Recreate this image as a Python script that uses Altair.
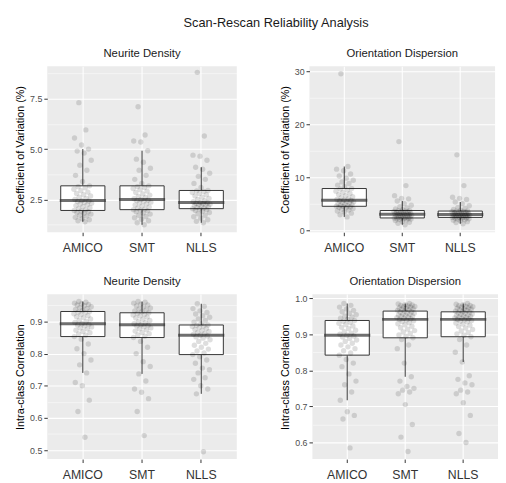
import altair as alt
import pandas as pd

methods = ["AMICO", "SMT", "NLLS"]

# Neurite Density - Coefficient of Variation (%)
nd_cov_amico = [1.40, 1.45, 1.50, 1.55, 1.62, 1.68, 1.72, 1.78, 1.82, 1.86, 1.90, 1.93,
                1.96,
                2.00, 2.05, 2.10, 2.15, 2.20, 2.24, 2.28, 2.32, 2.36, 2.40, 2.43,
                2.45,
                2.50, 2.56, 2.62, 2.68, 2.74, 2.80, 2.87, 2.94, 3.01, 3.08, 3.14,
                3.18,
                3.40, 3.70, 3.95, 4.20, 4.45, 4.80, 4.90, 5.00, 5.20, 5.55, 5.95, 7.30]
nd_cov_smt = [1.25, 1.35, 1.45, 1.52, 1.60, 1.66, 1.72, 1.78, 1.84, 1.90, 1.94, 1.97,
              2.00,
              2.04, 2.08, 2.13, 2.18, 2.23, 2.28, 2.33, 2.37, 2.41, 2.45, 2.48,
              2.50,
              2.54, 2.60, 2.66, 2.72, 2.78, 2.85, 2.92, 2.99, 3.05, 3.10, 3.14,
              3.18,
              3.30, 3.50, 3.70, 3.95, 4.05, 4.35, 4.50, 4.92, 5.35, 5.40, 5.70, 7.10]
nd_cov_nlls = [1.35, 1.42, 1.50, 1.58, 1.65, 1.72, 1.80, 1.86, 1.92, 1.96, 2.00, 2.03,
               2.05,
               2.08, 2.11, 2.14, 2.17, 2.20, 2.23, 2.25, 2.27, 2.29, 2.31, 2.33,
               2.35,
               2.39, 2.44, 2.50, 2.56, 2.62, 2.68, 2.74, 2.80, 2.85, 2.90, 2.93,
               2.95,
               3.10, 3.30, 3.50, 3.65, 3.80, 4.00, 4.10, 4.45, 4.65, 4.70, 5.65, 8.80]

# Orientation Dispersion - Coefficient of Variation (%)
odi_cov_amico = [2.5, 2.9, 3.2, 3.4, 3.6, 3.8, 3.95, 4.1, 4.2, 4.3, 4.38, 4.45,
                 4.5,
                 4.6, 4.7, 4.8, 4.9, 5.0, 5.1, 5.2, 5.3, 5.4, 5.5, 5.58,
                 5.65,
                 5.8, 5.95, 6.1, 6.3, 6.5, 6.7, 6.9, 7.1, 7.35, 7.55, 7.75,
                 7.85,
                 8.2, 8.5, 8.8, 9.1, 9.4, 9.8, 10.2, 10.6, 11.2, 11.5, 12.0, 29.5]
odi_cov_smt = [1.0, 1.3, 1.5, 1.65, 1.8, 1.9, 2.0, 2.08, 2.15, 2.2, 2.25, 2.28,
               2.3,
               2.36, 2.43, 2.5, 2.57, 2.64, 2.7, 2.76, 2.82, 2.88, 2.93, 2.97,
               3.0,
               3.05, 3.11, 3.17, 3.23, 3.29, 3.35, 3.41, 3.47, 3.53, 3.59, 3.65,
               3.7,
               3.85, 4.0, 4.2, 4.4, 4.7, 5.0, 5.5, 5.9, 6.0, 6.5, 8.4, 16.7]
odi_cov_nlls = [1.2, 1.45, 1.6, 1.75, 1.88, 1.98, 2.08, 2.16, 2.24, 2.3, 2.34, 2.37,
                2.4,
                2.45, 2.5, 2.56, 2.62, 2.68, 2.73, 2.78, 2.83, 2.87, 2.9, 2.93,
                2.95,
                3.0, 3.06, 3.12, 3.18, 3.24, 3.3, 3.36, 3.42, 3.48, 3.53, 3.57,
                3.6,
                3.75, 3.9, 4.1, 4.3, 4.6, 5.0, 5.3, 5.8, 6.0, 6.2, 8.4, 14.2]

# Neurite Density - Intra-class Correlation
nd_icc_amico = [0.54, 0.62, 0.655, 0.70, 0.71, 0.74, 0.765, 0.78, 0.80, 0.815, 0.83, 0.845,
                0.853,
                0.857, 0.861, 0.865, 0.869, 0.873, 0.877, 0.88, 0.883, 0.886, 0.889, 0.891,
                0.893,
                0.897, 0.90, 0.904, 0.908, 0.912, 0.915, 0.918, 0.921, 0.924, 0.927, 0.929,
                0.931,
                0.934, 0.937, 0.94, 0.943, 0.946, 0.949, 0.951, 0.953, 0.955, 0.957, 0.96, 0.962]
nd_icc_smt = [0.545, 0.62, 0.66, 0.68, 0.69, 0.715, 0.737, 0.76, 0.775, 0.80, 0.82, 0.838,
              0.85,
              0.854, 0.858, 0.862, 0.866, 0.87, 0.874, 0.877, 0.88, 0.883, 0.886, 0.888,
              0.89,
              0.893, 0.896, 0.899, 0.903, 0.907, 0.911, 0.914, 0.917, 0.92, 0.922, 0.925,
              0.927,
              0.93, 0.933, 0.936, 0.939, 0.942, 0.945, 0.948, 0.951, 0.954, 0.957, 0.96, 0.962]
nd_icc_nlls = [0.495, 0.675, 0.69, 0.70, 0.72, 0.725, 0.74, 0.75, 0.755, 0.77, 0.78, 0.79,
               0.797,
               0.802, 0.808, 0.814, 0.82, 0.826, 0.832, 0.838, 0.843, 0.848, 0.852, 0.855,
               0.857,
               0.86, 0.863, 0.866, 0.869, 0.872, 0.875, 0.878, 0.881, 0.884, 0.886, 0.888,
               0.889,
               0.893, 0.898, 0.903, 0.908, 0.913, 0.918, 0.923, 0.928, 0.933, 0.94, 0.947, 0.955]

# Orientation Dispersion - Intra-class Correlation
odi_icc_amico = [0.585, 0.665, 0.675, 0.685, 0.717, 0.74, 0.76, 0.77, 0.79, 0.81, 0.82, 0.83,
                 0.842,
                 0.848, 0.854, 0.86, 0.865, 0.87, 0.875, 0.88, 0.884, 0.888, 0.892, 0.895,
                 0.897,
                 0.90, 0.903, 0.907, 0.911, 0.915, 0.919, 0.923, 0.927, 0.93, 0.933, 0.936,
                 0.938,
                 0.941, 0.944, 0.947, 0.95, 0.954, 0.958, 0.962, 0.966, 0.97, 0.975, 0.98, 0.985]
odi_icc_smt = [0.575, 0.615, 0.65, 0.705, 0.735, 0.74, 0.745, 0.75, 0.755, 0.77, 0.782, 0.82, 0.86, 0.87, 0.885,
               0.89,
               0.894, 0.898, 0.902, 0.906, 0.91, 0.914, 0.918, 0.922, 0.926, 0.929, 0.932, 0.935, 0.937, 0.939,
               0.941,
               0.943, 0.944, 0.946, 0.947, 0.949, 0.95, 0.952, 0.953, 0.955, 0.956, 0.958, 0.959, 0.961, 0.962,
               0.964,
               0.966, 0.967, 0.969, 0.97, 0.972, 0.973, 0.975, 0.976, 0.977, 0.978, 0.98, 0.981, 0.982, 0.984, 0.985]
odi_icc_nlls = [0.60, 0.625, 0.675, 0.71, 0.735, 0.74, 0.745, 0.76, 0.765, 0.775, 0.785, 0.823, 0.85, 0.87, 0.885,
                0.893,
                0.897, 0.901, 0.905, 0.909, 0.913, 0.917, 0.921, 0.925, 0.928, 0.931, 0.934, 0.936, 0.938, 0.94,
                0.941,
                0.943, 0.944, 0.945, 0.947, 0.948, 0.949, 0.951, 0.952, 0.953, 0.955, 0.956, 0.958, 0.959, 0.961,
                0.962,
                0.964, 0.966, 0.967, 0.969, 0.97, 0.972, 0.973, 0.975, 0.976, 0.977, 0.979, 0.98, 0.982, 0.983, 0.985]

FONT = "Liberation Sans"


def make_df(a, s, n):
    rows = []
    for m, vals in zip(methods, [a, s, n]):
        for v in vals:
            rows.append({"method": m, "value": v})
    return pd.DataFrame(rows)


def panel(df, title, ytitle, domain, major, minor, fmt, w, h):
    base = alt.Chart(df)
    x = alt.X(
        "method:N", sort=methods, title=None,
        scale=alt.Scale(paddingInner=0, paddingOuter=0.1),
        axis=alt.Axis(bandPosition=0.5, grid=True, gridColor="white", gridWidth=1.1,
                      labelAngle=0, labelFontSize=12.5, labelColor="#333333",
                      tickSize=3.5, tickColor="#333333", labelPadding=6, domain=False),
    )
    yscale = alt.Scale(domain=domain, nice=False, zero=False)
    box = base.mark_boxplot(
        extent=1.5, outliers=False, size=45,
        box={"fill": "white", "stroke": "#333333", "strokeWidth": 1},
        median={"stroke": "#333333", "strokeWidth": 2},
        rule={"stroke": "#333333", "strokeWidth": 1},
    ).encode(
        x=x,
        y=alt.Y("value:Q", scale=yscale, title=ytitle,
                axis=alt.Axis(values=major, format=fmt, grid=True, gridColor="white",
                              gridWidth=1.1, labelFontSize=9, labelColor="#4D4D4D",
                              tickSize=3.5, tickColor="#333333", labelPadding=2,
                              titleFontSize=11, titleFontWeight="normal", titleColor="#000000",
                              domain=False)),
    )
    pts = base.transform_window(
        rn="row_number()", groupby=["method"]
    ).transform_calculate(
        jit="((datum.rn * 0.6180339887) % 1 - 0.5) * 0.31"
    ).mark_circle(size=30, color="black", opacity=0.13).encode(
        x=x,
        xOffset=alt.XOffset("jit:Q", scale=alt.Scale(domain=[-0.5, 0.5])),
        y=alt.Y("value:Q", scale=yscale),
    )
    grid = base.mark_point(opacity=0).encode(
        y=alt.Y("value:Q", scale=yscale,
                axis=alt.Axis(orient="right", values=minor, grid=True, gridColor="white",
                              gridWidth=0.5, labels=False, ticks=False, domain=False,
                              title=None, minExtent=0, maxExtent=0)),
    )
    inner = alt.layer(box, pts)
    return alt.layer(grid, inner).resolve_axis(y="independent").properties(
        width=w, height=h,
        title=alt.TitleParams(title, fontSize=11.5, fontWeight="normal", color="#1a1a1a",
                              anchor="middle", frame="group", offset=7, font=FONT),
    )


p1 = panel(make_df(nd_cov_amico, nd_cov_smt, nd_cov_nlls), "Neurite Density",
           "Coefficient of Variation (%)", [0.88, 9.1], [2.5, 5.0, 7.5],
           [1.25, 3.75, 6.25, 8.75], ".1f", 193, 169)
p2 = panel(make_df(odi_cov_amico, odi_cov_smt, odi_cov_nlls), "Orientation Dispersion",
           "Coefficient of Variation (%)", [-0.4, 30.9], [0, 10, 20, 30],
           [5, 15, 25], "d", 189, 169)
p3 = panel(make_df(nd_icc_amico, nd_icc_smt, nd_icc_nlls), "Neurite Density",
           "Intra-class Correlation", [0.472, 0.985], [0.5, 0.6, 0.7, 0.8, 0.9],
           [0.55, 0.65, 0.75, 0.85, 0.95], ".1f", 193, 168)
p4 = panel(make_df(odi_icc_amico, odi_icc_smt, odi_icc_nlls), "Orientation Dispersion",
           "Intra-class Correlation", [0.554, 1.011], [0.6, 0.7, 0.8, 0.9, 1.0],
           [0.65, 0.75, 0.85, 0.95], ".1f", 189, 168)

chart = alt.vconcat(
    alt.hconcat(p1, p2, spacing=43),
    alt.hconcat(p3, p4, spacing=43),
    spacing=22,
).properties(
    title=alt.TitleParams("Scan-Rescan Reliability Analysis", fontSize=13, fontWeight="normal",
                          color="#1a1a1a", anchor="middle", dx=20, offset=19, font=FONT),
    padding={"left": 6, "top": 4, "right": 0, "bottom": 0},
    background="white",
).configure(
    font=FONT,
).configure_title(
    fontWeight="normal",
).configure_axis(
    labelFont=FONT, titleFont=FONT,
).configure_view(
    fill="#EBEBEB", stroke=None,
)

chart.save("out.html", embed_options={"renderer": "svg", "actions": False})
